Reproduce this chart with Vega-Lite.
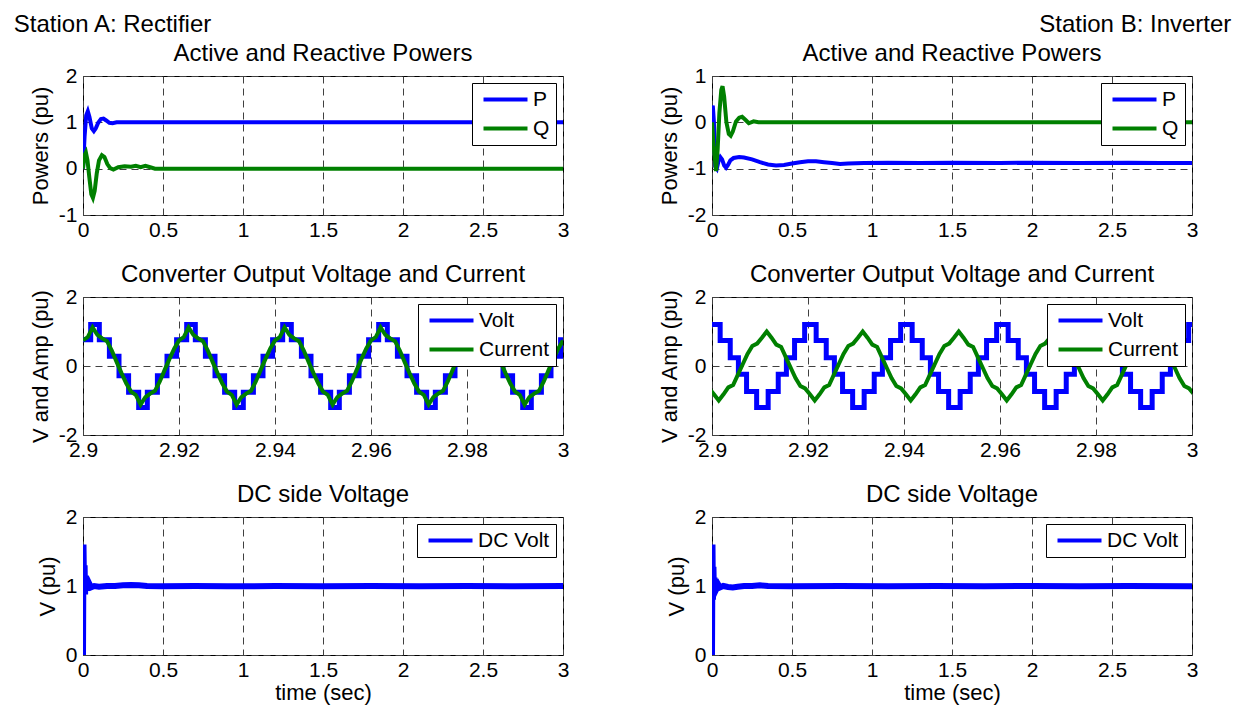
{
  "$schema": "https://vega.github.io/schema/vega-lite/v6.json",
  "background": "white",
  "padding": {"left": 13, "top": 12, "right": 5, "bottom": 5},
  "config": {
    "font": "Liberation Sans",
    "view": {"stroke": "black", "strokeWidth": 1},
    "axis": {
      "domain": false, "ticks": false, "grid": true,
      "gridColor": "#404040", "gridDash": [7, 5], "gridWidth": 1,
      "labelFont": "Liberation Sans", "labelFontSize": 21, "labelColor": "black",
      "labelPadding": 6, "labelFlush": false, "labelOverlap": false,
      "titleFont": "Liberation Sans", "titleFontSize": 22, "titleFontWeight": "normal", "titleColor": "black", "titlePadding": 6
    },
    "axisX": {"labelPadding": 4, "titlePadding": 2},
    "legend": {
      "orient": "top-right", "offset": 7, "strokeColor": "black", "fillColor": "white",
      "padding": 6, "rowPadding": 7, "symbolType": "M-1,0H7.8", "symbolSize": 100, "symbolStrokeWidth": 4,
      "labelFont": "Liberation Sans", "labelFontSize": 21, "labelColor": "black", "labelOffset": 34
    },
    "title": {"font": "Liberation Sans", "fontSize": 24, "fontWeight": "normal", "color": "black", "frame": "group", "offset": -1}
  },
  "datasets": {
    "powA": [
      {"t":0,"v":0,"s":"P"},{"t":0.01,"v":0.7,"s":"P"},{"t":0.02,"v":1.15,"s":"P"},{"t":0.03,"v":1.24,"s":"P"},{"t":0.04,"v":1.12,"s":"P"},{"t":0.055,"v":0.87,"s":"P"},{"t":0.068,"v":0.81,"s":"P"},{"t":0.08,"v":0.87,"s":"P"},{"t":0.095,"v":0.99,"s":"P"},{"t":0.112,"v":1.07,"s":"P"},{"t":0.128,"v":1.08,"s":"P"},{"t":0.145,"v":1.04,"s":"P"},{"t":0.165,"v":0.99,"s":"P"},{"t":0.185,"v":0.98,"s":"P"},{"t":0.21,"v":1.0,"s":"P"},{"t":0.3,"v":1.0,"s":"P"},{"t":3,"v":1.0,"s":"P"},
      {"t":0,"v":0,"s":"Q"},{"t":0.008,"v":0.28,"s":"Q"},{"t":0.018,"v":0.35,"s":"Q"},{"t":0.028,"v":0.18,"s":"Q"},{"t":0.04,"v":-0.2,"s":"Q"},{"t":0.052,"v":-0.55,"s":"Q"},{"t":0.062,"v":-0.63,"s":"Q"},{"t":0.073,"v":-0.48,"s":"Q"},{"t":0.086,"v":-0.1,"s":"Q"},{"t":0.1,"v":0.18,"s":"Q"},{"t":0.118,"v":0.29,"s":"Q"},{"t":0.134,"v":0.25,"s":"Q"},{"t":0.152,"v":0.1,"s":"Q"},{"t":0.17,"v":0.01,"s":"Q"},{"t":0.19,"v":-0.02,"s":"Q"},{"t":0.22,"v":0.03,"s":"Q"},{"t":0.26,"v":0.05,"s":"Q"},{"t":0.3,"v":0.04,"s":"Q"},{"t":0.33,"v":0.06,"s":"Q"},{"t":0.36,"v":0.03,"s":"Q"},{"t":0.39,"v":0.06,"s":"Q"},{"t":0.42,"v":0.03,"s":"Q"},{"t":0.45,"v":0.0,"s":"Q"},{"t":3,"v":0,"s":"Q"}
    ],
    "powB": [
      {"t":0,"v":0.3,"s":"P"},{"t":0.005,"v":0.36,"s":"P"},{"t":0.012,"v":0.0,"s":"P"},{"t":0.02,"v":-0.95,"s":"P"},{"t":0.03,"v":-1.0,"s":"P"},{"t":0.042,"v":-0.82,"s":"P"},{"t":0.052,"v":-0.75,"s":"P"},{"t":0.063,"v":-0.8,"s":"P"},{"t":0.076,"v":-0.93,"s":"P"},{"t":0.088,"v":-0.98,"s":"P"},{"t":0.1,"v":-0.92,"s":"P"},{"t":0.115,"v":-0.82,"s":"P"},{"t":0.135,"v":-0.77,"s":"P"},{"t":0.17,"v":-0.75,"s":"P"},{"t":0.2,"v":-0.76,"s":"P"},{"t":0.25,"v":-0.8,"s":"P"},{"t":0.3,"v":-0.86,"s":"P"},{"t":0.35,"v":-0.91,"s":"P"},{"t":0.4,"v":-0.93,"s":"P"},{"t":0.45,"v":-0.92,"s":"P"},{"t":0.5,"v":-0.89,"s":"P"},{"t":0.55,"v":-0.86,"s":"P"},{"t":0.6,"v":-0.84,"s":"P"},{"t":0.65,"v":-0.84,"s":"P"},{"t":0.7,"v":-0.86,"s":"P"},{"t":0.75,"v":-0.88,"s":"P"},{"t":0.8,"v":-0.9,"s":"P"},{"t":0.85,"v":-0.89,"s":"P"},{"t":0.95,"v":-0.88,"s":"P"},{"t":1.1,"v":-0.87,"s":"P"},{"t":1.3,"v":-0.88,"s":"P"},{"t":1.5,"v":-0.87,"s":"P"},{"t":1.8,"v":-0.88,"s":"P"},{"t":2.0,"v":-0.87,"s":"P"},{"t":2.3,"v":-0.88,"s":"P"},{"t":2.6,"v":-0.87,"s":"P"},{"t":2.8,"v":-0.88,"s":"P"},{"t":3.0,"v":-0.88,"s":"P"},
      {"t":0,"v":0,"s":"Q"},{"t":0.01,"v":-0.5,"s":"Q"},{"t":0.025,"v":-1.05,"s":"Q"},{"t":0.035,"v":-0.6,"s":"Q"},{"t":0.046,"v":0.2,"s":"Q"},{"t":0.058,"v":0.7,"s":"Q"},{"t":0.066,"v":0.78,"s":"Q"},{"t":0.076,"v":0.55,"s":"Q"},{"t":0.09,"v":0.0,"s":"Q"},{"t":0.105,"v":-0.25,"s":"Q"},{"t":0.117,"v":-0.29,"s":"Q"},{"t":0.13,"v":-0.2,"s":"Q"},{"t":0.15,"v":0.02,"s":"Q"},{"t":0.17,"v":0.1,"s":"Q"},{"t":0.188,"v":0.12,"s":"Q"},{"t":0.21,"v":0.05,"s":"Q"},{"t":0.23,"v":-0.02,"s":"Q"},{"t":0.26,"v":0.02,"s":"Q"},{"t":0.29,"v":0.0,"s":"Q"},{"t":3,"v":0,"s":"Q"}
    ],
    "convA": [
      {"t":2.9,"v":0.76,"s":"Volt"},{"t":2.9016,"v":1.2,"s":"Volt"},{"t":2.9034,"v":0.76,"s":"Volt"},{"t":2.9055,"v":0.28,"s":"Volt"},{"t":2.9075,"v":-0.28,"s":"Volt"},{"t":2.9095,"v":-0.76,"s":"Volt"},{"t":2.9116,"v":-1.2,"s":"Volt"},{"t":2.9134,"v":-0.76,"s":"Volt"},{"t":2.9155,"v":-0.28,"s":"Volt"},{"t":2.9175,"v":0.28,"s":"Volt"},{"t":2.9195,"v":0.76,"s":"Volt"},
      {"t":2.9216,"v":1.2,"s":"Volt"},{"t":2.9234,"v":0.76,"s":"Volt"},{"t":2.9255,"v":0.28,"s":"Volt"},{"t":2.9275,"v":-0.28,"s":"Volt"},{"t":2.9295,"v":-0.76,"s":"Volt"},{"t":2.9316,"v":-1.2,"s":"Volt"},{"t":2.9334,"v":-0.76,"s":"Volt"},{"t":2.9355,"v":-0.28,"s":"Volt"},{"t":2.9375,"v":0.28,"s":"Volt"},{"t":2.9395,"v":0.76,"s":"Volt"},
      {"t":2.9416,"v":1.2,"s":"Volt"},{"t":2.9434,"v":0.76,"s":"Volt"},{"t":2.9455,"v":0.28,"s":"Volt"},{"t":2.9475,"v":-0.28,"s":"Volt"},{"t":2.9495,"v":-0.76,"s":"Volt"},{"t":2.9516,"v":-1.2,"s":"Volt"},{"t":2.9534,"v":-0.76,"s":"Volt"},{"t":2.9555,"v":-0.28,"s":"Volt"},{"t":2.9575,"v":0.28,"s":"Volt"},{"t":2.9595,"v":0.76,"s":"Volt"},
      {"t":2.9616,"v":1.2,"s":"Volt"},{"t":2.9634,"v":0.76,"s":"Volt"},{"t":2.9655,"v":0.28,"s":"Volt"},{"t":2.9675,"v":-0.28,"s":"Volt"},{"t":2.9695,"v":-0.76,"s":"Volt"},{"t":2.9716,"v":-1.2,"s":"Volt"},{"t":2.9734,"v":-0.76,"s":"Volt"},{"t":2.9755,"v":-0.28,"s":"Volt"},{"t":2.9775,"v":0.28,"s":"Volt"},{"t":2.9795,"v":0.76,"s":"Volt"},
      {"t":2.9816,"v":1.2,"s":"Volt"},{"t":2.9834,"v":0.76,"s":"Volt"},{"t":2.9855,"v":0.28,"s":"Volt"},{"t":2.9875,"v":-0.28,"s":"Volt"},{"t":2.9895,"v":-0.76,"s":"Volt"},{"t":2.9916,"v":-1.2,"s":"Volt"},{"t":2.9934,"v":-0.76,"s":"Volt"},{"t":2.9955,"v":-0.28,"s":"Volt"},{"t":2.9975,"v":0.28,"s":"Volt"},{"t":2.9995,"v":0.76,"s":"Volt"},{"t":3.0,"v":0.76,"s":"Volt"},
      {"t":2.900,"v":0.74,"s":"Current"},{"t":2.901,"v":0.84,"s":"Current"},{"t":2.902,"v":1.12,"s":"Current"},{"t":2.903,"v":0.9,"s":"Current"},{"t":2.904,"v":0.8,"s":"Current"},{"t":2.905,"v":0.72,"s":"Current"},{"t":2.906,"v":0.45,"s":"Current"},{"t":2.907,"v":0.12,"s":"Current"},{"t":2.908,"v":-0.2,"s":"Current"},{"t":2.909,"v":-0.5,"s":"Current"},{"t":2.910,"v":-0.74,"s":"Current"},{"t":2.911,"v":-0.84,"s":"Current"},{"t":2.912,"v":-1.12,"s":"Current"},{"t":2.913,"v":-0.9,"s":"Current"},{"t":2.914,"v":-0.8,"s":"Current"},{"t":2.915,"v":-0.72,"s":"Current"},{"t":2.916,"v":-0.45,"s":"Current"},{"t":2.917,"v":-0.12,"s":"Current"},{"t":2.918,"v":0.2,"s":"Current"},{"t":2.919,"v":0.5,"s":"Current"},
      {"t":2.920,"v":0.74,"s":"Current"},{"t":2.921,"v":0.84,"s":"Current"},{"t":2.922,"v":1.12,"s":"Current"},{"t":2.923,"v":0.9,"s":"Current"},{"t":2.924,"v":0.8,"s":"Current"},{"t":2.925,"v":0.72,"s":"Current"},{"t":2.926,"v":0.45,"s":"Current"},{"t":2.927,"v":0.12,"s":"Current"},{"t":2.928,"v":-0.2,"s":"Current"},{"t":2.929,"v":-0.5,"s":"Current"},{"t":2.930,"v":-0.74,"s":"Current"},{"t":2.931,"v":-0.84,"s":"Current"},{"t":2.932,"v":-1.12,"s":"Current"},{"t":2.933,"v":-0.9,"s":"Current"},{"t":2.934,"v":-0.8,"s":"Current"},{"t":2.935,"v":-0.72,"s":"Current"},{"t":2.936,"v":-0.45,"s":"Current"},{"t":2.937,"v":-0.12,"s":"Current"},{"t":2.938,"v":0.2,"s":"Current"},{"t":2.939,"v":0.5,"s":"Current"},
      {"t":2.940,"v":0.74,"s":"Current"},{"t":2.941,"v":0.84,"s":"Current"},{"t":2.942,"v":1.12,"s":"Current"},{"t":2.943,"v":0.9,"s":"Current"},{"t":2.944,"v":0.8,"s":"Current"},{"t":2.945,"v":0.72,"s":"Current"},{"t":2.946,"v":0.45,"s":"Current"},{"t":2.947,"v":0.12,"s":"Current"},{"t":2.948,"v":-0.2,"s":"Current"},{"t":2.949,"v":-0.5,"s":"Current"},{"t":2.950,"v":-0.74,"s":"Current"},{"t":2.951,"v":-0.84,"s":"Current"},{"t":2.952,"v":-1.12,"s":"Current"},{"t":2.953,"v":-0.9,"s":"Current"},{"t":2.954,"v":-0.8,"s":"Current"},{"t":2.955,"v":-0.72,"s":"Current"},{"t":2.956,"v":-0.45,"s":"Current"},{"t":2.957,"v":-0.12,"s":"Current"},{"t":2.958,"v":0.2,"s":"Current"},{"t":2.959,"v":0.5,"s":"Current"},
      {"t":2.960,"v":0.74,"s":"Current"},{"t":2.961,"v":0.84,"s":"Current"},{"t":2.962,"v":1.12,"s":"Current"},{"t":2.963,"v":0.9,"s":"Current"},{"t":2.964,"v":0.8,"s":"Current"},{"t":2.965,"v":0.72,"s":"Current"},{"t":2.966,"v":0.45,"s":"Current"},{"t":2.967,"v":0.12,"s":"Current"},{"t":2.968,"v":-0.2,"s":"Current"},{"t":2.969,"v":-0.5,"s":"Current"},{"t":2.970,"v":-0.74,"s":"Current"},{"t":2.971,"v":-0.84,"s":"Current"},{"t":2.972,"v":-1.12,"s":"Current"},{"t":2.973,"v":-0.9,"s":"Current"},{"t":2.974,"v":-0.8,"s":"Current"},{"t":2.975,"v":-0.72,"s":"Current"},{"t":2.976,"v":-0.45,"s":"Current"},{"t":2.977,"v":-0.12,"s":"Current"},{"t":2.978,"v":0.2,"s":"Current"},{"t":2.979,"v":0.5,"s":"Current"},
      {"t":2.980,"v":0.74,"s":"Current"},{"t":2.981,"v":0.84,"s":"Current"},{"t":2.982,"v":1.12,"s":"Current"},{"t":2.983,"v":0.9,"s":"Current"},{"t":2.984,"v":0.8,"s":"Current"},{"t":2.985,"v":0.72,"s":"Current"},{"t":2.986,"v":0.45,"s":"Current"},{"t":2.987,"v":0.12,"s":"Current"},{"t":2.988,"v":-0.2,"s":"Current"},{"t":2.989,"v":-0.5,"s":"Current"},{"t":2.990,"v":-0.74,"s":"Current"},{"t":2.991,"v":-0.84,"s":"Current"},{"t":2.992,"v":-1.12,"s":"Current"},{"t":2.993,"v":-0.9,"s":"Current"},{"t":2.994,"v":-0.8,"s":"Current"},{"t":2.995,"v":-0.72,"s":"Current"},{"t":2.996,"v":-0.45,"s":"Current"},{"t":2.997,"v":-0.12,"s":"Current"},{"t":2.998,"v":0.2,"s":"Current"},{"t":2.999,"v":0.5,"s":"Current"},{"t":3.000,"v":0.74,"s":"Current"}
    ],
    "convB": [
      {"t":2.9,"v":1.2,"s":"Volt"},{"t":2.9017,"v":0.74,"s":"Volt"},{"t":2.9038,"v":0.24,"s":"Volt"},{"t":2.9055,"v":-0.24,"s":"Volt"},{"t":2.9072,"v":-0.74,"s":"Volt"},{"t":2.9093,"v":-1.2,"s":"Volt"},{"t":2.9117,"v":-0.74,"s":"Volt"},{"t":2.9138,"v":-0.24,"s":"Volt"},{"t":2.9155,"v":0.24,"s":"Volt"},{"t":2.9172,"v":0.74,"s":"Volt"},
      {"t":2.9193,"v":1.2,"s":"Volt"},{"t":2.9217,"v":0.74,"s":"Volt"},{"t":2.9238,"v":0.24,"s":"Volt"},{"t":2.9255,"v":-0.24,"s":"Volt"},{"t":2.9272,"v":-0.74,"s":"Volt"},{"t":2.9293,"v":-1.2,"s":"Volt"},{"t":2.9317,"v":-0.74,"s":"Volt"},{"t":2.9338,"v":-0.24,"s":"Volt"},{"t":2.9355,"v":0.24,"s":"Volt"},{"t":2.9372,"v":0.74,"s":"Volt"},
      {"t":2.9393,"v":1.2,"s":"Volt"},{"t":2.9417,"v":0.74,"s":"Volt"},{"t":2.9438,"v":0.24,"s":"Volt"},{"t":2.9455,"v":-0.24,"s":"Volt"},{"t":2.9472,"v":-0.74,"s":"Volt"},{"t":2.9493,"v":-1.2,"s":"Volt"},{"t":2.9517,"v":-0.74,"s":"Volt"},{"t":2.9538,"v":-0.24,"s":"Volt"},{"t":2.9555,"v":0.24,"s":"Volt"},{"t":2.9572,"v":0.74,"s":"Volt"},
      {"t":2.9593,"v":1.2,"s":"Volt"},{"t":2.9617,"v":0.74,"s":"Volt"},{"t":2.9638,"v":0.24,"s":"Volt"},{"t":2.9655,"v":-0.24,"s":"Volt"},{"t":2.9672,"v":-0.74,"s":"Volt"},{"t":2.9693,"v":-1.2,"s":"Volt"},{"t":2.9717,"v":-0.74,"s":"Volt"},{"t":2.9738,"v":-0.24,"s":"Volt"},{"t":2.9755,"v":0.24,"s":"Volt"},{"t":2.9772,"v":0.74,"s":"Volt"},
      {"t":2.9793,"v":1.2,"s":"Volt"},{"t":2.9817,"v":0.74,"s":"Volt"},{"t":2.9838,"v":0.24,"s":"Volt"},{"t":2.9855,"v":-0.24,"s":"Volt"},{"t":2.9872,"v":-0.74,"s":"Volt"},{"t":2.9893,"v":-1.2,"s":"Volt"},{"t":2.9917,"v":-0.74,"s":"Volt"},{"t":2.9938,"v":-0.24,"s":"Volt"},{"t":2.9955,"v":0.24,"s":"Volt"},{"t":2.9972,"v":0.74,"s":"Volt"},{"t":2.9993,"v":1.2,"s":"Volt"},{"t":3.0,"v":1.2,"s":"Volt"},
      {"t":2.8994,"v":-0.65,"s":"Current"},{"t":2.9004,"v":-0.82,"s":"Current"},{"t":2.9014,"v":-1.0,"s":"Current"},{"t":2.9024,"v":-0.82,"s":"Current"},{"t":2.9034,"v":-0.62,"s":"Current"},{"t":2.9044,"v":-0.55,"s":"Current"},{"t":2.9054,"v":-0.25,"s":"Current"},{"t":2.9064,"v":0.05,"s":"Current"},{"t":2.9074,"v":0.35,"s":"Current"},{"t":2.9084,"v":0.58,"s":"Current"},{"t":2.9094,"v":0.65,"s":"Current"},{"t":2.9104,"v":0.82,"s":"Current"},{"t":2.9114,"v":1.0,"s":"Current"},{"t":2.9124,"v":0.82,"s":"Current"},{"t":2.9134,"v":0.62,"s":"Current"},{"t":2.9144,"v":0.55,"s":"Current"},{"t":2.9154,"v":0.25,"s":"Current"},{"t":2.9164,"v":-0.05,"s":"Current"},{"t":2.9174,"v":-0.35,"s":"Current"},{"t":2.9184,"v":-0.58,"s":"Current"},
      {"t":2.9194,"v":-0.65,"s":"Current"},{"t":2.9204,"v":-0.82,"s":"Current"},{"t":2.9214,"v":-1.0,"s":"Current"},{"t":2.9224,"v":-0.82,"s":"Current"},{"t":2.9234,"v":-0.62,"s":"Current"},{"t":2.9244,"v":-0.55,"s":"Current"},{"t":2.9254,"v":-0.25,"s":"Current"},{"t":2.9264,"v":0.05,"s":"Current"},{"t":2.9274,"v":0.35,"s":"Current"},{"t":2.9284,"v":0.58,"s":"Current"},{"t":2.9294,"v":0.65,"s":"Current"},{"t":2.9304,"v":0.82,"s":"Current"},{"t":2.9314,"v":1.0,"s":"Current"},{"t":2.9324,"v":0.82,"s":"Current"},{"t":2.9334,"v":0.62,"s":"Current"},{"t":2.9344,"v":0.55,"s":"Current"},{"t":2.9354,"v":0.25,"s":"Current"},{"t":2.9364,"v":-0.05,"s":"Current"},{"t":2.9374,"v":-0.35,"s":"Current"},{"t":2.9384,"v":-0.58,"s":"Current"},
      {"t":2.9394,"v":-0.65,"s":"Current"},{"t":2.9404,"v":-0.82,"s":"Current"},{"t":2.9414,"v":-1.0,"s":"Current"},{"t":2.9424,"v":-0.82,"s":"Current"},{"t":2.9434,"v":-0.62,"s":"Current"},{"t":2.9444,"v":-0.55,"s":"Current"},{"t":2.9454,"v":-0.25,"s":"Current"},{"t":2.9464,"v":0.05,"s":"Current"},{"t":2.9474,"v":0.35,"s":"Current"},{"t":2.9484,"v":0.58,"s":"Current"},{"t":2.9494,"v":0.65,"s":"Current"},{"t":2.9504,"v":0.82,"s":"Current"},{"t":2.9514,"v":1.0,"s":"Current"},{"t":2.9524,"v":0.82,"s":"Current"},{"t":2.9534,"v":0.62,"s":"Current"},{"t":2.9544,"v":0.55,"s":"Current"},{"t":2.9554,"v":0.25,"s":"Current"},{"t":2.9564,"v":-0.05,"s":"Current"},{"t":2.9574,"v":-0.35,"s":"Current"},{"t":2.9584,"v":-0.58,"s":"Current"},
      {"t":2.9594,"v":-0.65,"s":"Current"},{"t":2.9604,"v":-0.82,"s":"Current"},{"t":2.9614,"v":-1.0,"s":"Current"},{"t":2.9624,"v":-0.82,"s":"Current"},{"t":2.9634,"v":-0.62,"s":"Current"},{"t":2.9644,"v":-0.55,"s":"Current"},{"t":2.9654,"v":-0.25,"s":"Current"},{"t":2.9664,"v":0.05,"s":"Current"},{"t":2.9674,"v":0.35,"s":"Current"},{"t":2.9684,"v":0.58,"s":"Current"},{"t":2.9694,"v":0.65,"s":"Current"},{"t":2.9704,"v":0.82,"s":"Current"},{"t":2.9714,"v":1.0,"s":"Current"},{"t":2.9724,"v":0.82,"s":"Current"},{"t":2.9734,"v":0.62,"s":"Current"},{"t":2.9744,"v":0.55,"s":"Current"},{"t":2.9754,"v":0.25,"s":"Current"},{"t":2.9764,"v":-0.05,"s":"Current"},{"t":2.9774,"v":-0.35,"s":"Current"},{"t":2.9784,"v":-0.58,"s":"Current"},
      {"t":2.9794,"v":-0.65,"s":"Current"},{"t":2.9804,"v":-0.82,"s":"Current"},{"t":2.9814,"v":-1.0,"s":"Current"},{"t":2.9824,"v":-0.82,"s":"Current"},{"t":2.9834,"v":-0.62,"s":"Current"},{"t":2.9844,"v":-0.55,"s":"Current"},{"t":2.9854,"v":-0.25,"s":"Current"},{"t":2.9864,"v":0.05,"s":"Current"},{"t":2.9874,"v":0.35,"s":"Current"},{"t":2.9884,"v":0.58,"s":"Current"},{"t":2.9894,"v":0.65,"s":"Current"},{"t":2.9904,"v":0.82,"s":"Current"},{"t":2.9914,"v":1.0,"s":"Current"},{"t":2.9924,"v":0.82,"s":"Current"},{"t":2.9934,"v":0.62,"s":"Current"},{"t":2.9944,"v":0.55,"s":"Current"},{"t":2.9954,"v":0.25,"s":"Current"},{"t":2.9964,"v":-0.05,"s":"Current"},{"t":2.9974,"v":-0.35,"s":"Current"},{"t":2.9984,"v":-0.58,"s":"Current"},{"t":2.9994,"v":-0.65,"s":"Current"},{"t":3.0004,"v":-0.82,"s":"Current"}
    ],
    "dcA": [
      {"t":0,"v":0,"s":"DC Volt"},{"t":0.003,"v":1.6,"s":"DC Volt"},{"t":0.007,"v":0.9,"s":"DC Volt"},{"t":0.01,"v":1.3,"s":"DC Volt"},{"t":0.013,"v":0.88,"s":"DC Volt"},{"t":0.017,"v":1.15,"s":"DC Volt"},{"t":0.021,"v":0.93,"s":"DC Volt"},{"t":0.026,"v":1.07,"s":"DC Volt"},{"t":0.032,"v":0.96,"s":"DC Volt"},{"t":0.04,"v":1.03,"s":"DC Volt"},{"t":0.05,"v":0.98,"s":"DC Volt"},{"t":0.07,"v":1.0,"s":"DC Volt"},{"t":0.1,"v":0.99,"s":"DC Volt"},{"t":0.15,"v":1.0,"s":"DC Volt"},{"t":0.2,"v":1.0,"s":"DC Volt"},{"t":0.25,"v":1.01,"s":"DC Volt"},{"t":0.3,"v":1.015,"s":"DC Volt"},{"t":0.35,"v":1.01,"s":"DC Volt"},{"t":0.4,"v":1.0,"s":"DC Volt"},{"t":0.5,"v":0.995,"s":"DC Volt"},{"t":0.7,"v":1.0,"s":"DC Volt"},{"t":0.9,"v":0.995,"s":"DC Volt"},{"t":1.2,"v":1.0,"s":"DC Volt"},{"t":1.5,"v":0.995,"s":"DC Volt"},{"t":1.8,"v":1.0,"s":"DC Volt"},{"t":2.1,"v":0.995,"s":"DC Volt"},{"t":2.4,"v":1.0,"s":"DC Volt"},{"t":2.7,"v":0.995,"s":"DC Volt"},{"t":3.0,"v":1.0,"s":"DC Volt"}
    ],
    "dcB": [
      {"t":0,"v":0,"s":"DC Volt"},{"t":0.003,"v":1.6,"s":"DC Volt"},{"t":0.006,"v":0.8,"s":"DC Volt"},{"t":0.009,"v":1.28,"s":"DC Volt"},{"t":0.012,"v":0.9,"s":"DC Volt"},{"t":0.016,"v":1.12,"s":"DC Volt"},{"t":0.02,"v":0.92,"s":"DC Volt"},{"t":0.025,"v":1.06,"s":"DC Volt"},{"t":0.03,"v":0.97,"s":"DC Volt"},{"t":0.04,"v":1.02,"s":"DC Volt"},{"t":0.05,"v":0.98,"s":"DC Volt"},{"t":0.07,"v":1.0,"s":"DC Volt"},{"t":0.1,"v":0.985,"s":"DC Volt"},{"t":0.13,"v":0.98,"s":"DC Volt"},{"t":0.16,"v":0.99,"s":"DC Volt"},{"t":0.2,"v":1.0,"s":"DC Volt"},{"t":0.25,"v":1.0,"s":"DC Volt"},{"t":0.3,"v":1.01,"s":"DC Volt"},{"t":0.35,"v":1.0,"s":"DC Volt"},{"t":0.5,"v":0.995,"s":"DC Volt"},{"t":0.8,"v":1.0,"s":"DC Volt"},{"t":1.1,"v":0.995,"s":"DC Volt"},{"t":1.4,"v":1.0,"s":"DC Volt"},{"t":1.7,"v":0.995,"s":"DC Volt"},{"t":2.0,"v":1.0,"s":"DC Volt"},{"t":2.3,"v":0.995,"s":"DC Volt"},{"t":2.6,"v":1.0,"s":"DC Volt"},{"t":3.0,"v":0.995,"s":"DC Volt"}
    ]
  },
  "spacing": 87,
  "resolve": {"scale": {"color": "independent"}, "legend": {"color": "independent"}},
  "hconcat": [
    {
      "title": {"text": "Station A: Rectifier", "anchor": "start", "frame": "bounds", "dx": -15, "offset": 5},
      "bounds": "flush",
      "spacing": 82,
      "resolve": {"scale": {"color": "independent"}, "legend": {"color": "independent"}},
      "vconcat": [
        {
          "width": 480, "height": 139,
          "title": "Active and Reactive Powers",
          "data": {"name": "powA"},
          "mark": {"type": "line", "strokeWidth": 4, "clip": true},
          "encoding": {
            "x": {"field": "t", "type": "quantitative", "scale": {"domain": [0, 3], "nice": false}, "axis": {"values": [0, 0.5, 1, 1.5, 2, 2.5, 3], "format": "~g", "title": null}},
            "y": {"field": "v", "type": "quantitative", "scale": {"domain": [-1, 2], "nice": false, "zero": false}, "axis": {"values": [-1, 0, 1, 2], "format": "~g", "labelExpr": "replace(datum.label, '\u2212', '-')", "title": "Powers (pu)"}},
            "color": {"field": "s", "type": "nominal", "scale": {"domain": ["P", "Q"], "range": ["#0000ff", "#008000"]}, "legend": {"title": null}}
          }
        },
        {
          "width": 480, "height": 138,
          "title": "Converter Output Voltage and Current",
          "data": {"name": "convA"},
          "encoding": {
            "x": {"field": "t", "type": "quantitative", "scale": {"domain": [2.9, 3], "nice": false, "zero": false}, "axis": {"values": [2.9, 2.92, 2.94, 2.96, 2.98, 3], "format": "~g", "title": null}},
            "y": {"field": "v", "type": "quantitative", "scale": {"domain": [-2, 2], "nice": false, "zero": false}, "axis": {"values": [-2, 0, 2], "format": "~g", "labelExpr": "replace(datum.label, '\u2212', '-')", "title": "V and Amp (pu)"}},
            "color": {"field": "s", "type": "nominal", "scale": {"domain": ["Volt", "Current"], "range": ["#0000ff", "#008000"]}, "legend": {"title": null}}
          },
          "layer": [
            {"transform": [{"filter": "datum.s === 'Volt'"}], "mark": {"type": "line", "strokeWidth": 5, "interpolate": "step-after", "clip": true}},
            {"transform": [{"filter": "datum.s === 'Current'"}], "mark": {"type": "line", "strokeWidth": 4, "clip": true}}
          ]
        },
        {
          "width": 480, "height": 138,
          "title": "DC side Voltage",
          "data": {"name": "dcA"},
          "mark": {"type": "line", "strokeWidth": 6, "clip": true},
          "encoding": {
            "x": {"field": "t", "type": "quantitative", "scale": {"domain": [0, 3], "nice": false}, "axis": {"values": [0, 0.5, 1, 1.5, 2, 2.5, 3], "format": "~g", "title": "time (sec)"}},
            "y": {"field": "v", "type": "quantitative", "scale": {"domain": [0, 2], "nice": false}, "axis": {"values": [0, 1, 2], "format": "~g", "title": "V (pu)"}},
            "color": {"field": "s", "type": "nominal", "scale": {"domain": ["DC Volt"], "range": ["#0000ff"]}, "legend": {"title": null}}
          }
        }
      ]
    },
    {
      "title": {"text": "Station B: Inverter", "anchor": "end", "frame": "bounds", "dx": 33, "offset": 5},
      "bounds": "flush",
      "spacing": 82,
      "resolve": {"scale": {"color": "independent"}, "legend": {"color": "independent"}},
      "vconcat": [
        {
          "width": 480, "height": 139,
          "title": "Active and Reactive Powers",
          "data": {"name": "powB"},
          "mark": {"type": "line", "strokeWidth": 4, "clip": true},
          "encoding": {
            "x": {"field": "t", "type": "quantitative", "scale": {"domain": [0, 3], "nice": false}, "axis": {"values": [0, 0.5, 1, 1.5, 2, 2.5, 3], "format": "~g", "title": null}},
            "y": {"field": "v", "type": "quantitative", "scale": {"domain": [-2, 1], "nice": false, "zero": false}, "axis": {"values": [-2, -1, 0, 1], "format": "~g", "labelExpr": "replace(datum.label, '\u2212', '-')", "title": "Powers (pu)"}},
            "color": {"field": "s", "type": "nominal", "scale": {"domain": ["P", "Q"], "range": ["#0000ff", "#008000"]}, "legend": {"title": null}}
          }
        },
        {
          "width": 480, "height": 138,
          "title": "Converter Output Voltage and Current",
          "data": {"name": "convB"},
          "encoding": {
            "x": {"field": "t", "type": "quantitative", "scale": {"domain": [2.9, 3], "nice": false, "zero": false}, "axis": {"values": [2.9, 2.92, 2.94, 2.96, 2.98, 3], "format": "~g", "title": null}},
            "y": {"field": "v", "type": "quantitative", "scale": {"domain": [-2, 2], "nice": false, "zero": false}, "axis": {"values": [-2, 0, 2], "format": "~g", "labelExpr": "replace(datum.label, '\u2212', '-')", "title": "V and Amp (pu)"}},
            "color": {"field": "s", "type": "nominal", "scale": {"domain": ["Volt", "Current"], "range": ["#0000ff", "#008000"]}, "legend": {"title": null}}
          },
          "layer": [
            {"transform": [{"filter": "datum.s === 'Volt'"}], "mark": {"type": "line", "strokeWidth": 5, "interpolate": "step-after", "clip": true}},
            {"transform": [{"filter": "datum.s === 'Current'"}], "mark": {"type": "line", "strokeWidth": 4, "clip": true}}
          ]
        },
        {
          "width": 480, "height": 138,
          "title": "DC side Voltage",
          "data": {"name": "dcB"},
          "mark": {"type": "line", "strokeWidth": 6, "clip": true},
          "encoding": {
            "x": {"field": "t", "type": "quantitative", "scale": {"domain": [0, 3], "nice": false}, "axis": {"values": [0, 0.5, 1, 1.5, 2, 2.5, 3], "format": "~g", "title": "time (sec)"}},
            "y": {"field": "v", "type": "quantitative", "scale": {"domain": [0, 2], "nice": false}, "axis": {"values": [0, 1, 2], "format": "~g", "title": "V (pu)"}},
            "color": {"field": "s", "type": "nominal", "scale": {"domain": ["DC Volt"], "range": ["#0000ff"]}, "legend": {"title": null}}
          }
        }
      ]
    }
  ]
}
